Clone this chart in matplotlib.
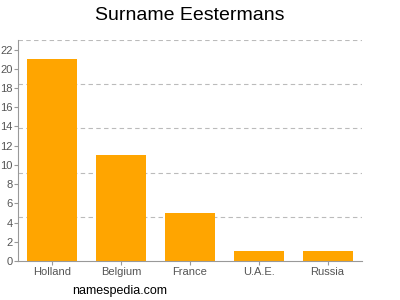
import matplotlib
matplotlib.use('Agg')
import matplotlib.pyplot as plt
from matplotlib.ticker import MultipleLocator

countries = ['Holland', 'Belgium', 'France', 'U.A.E.', 'Russia']
counts = [21, 11, 5, 1, 1]

plt.rcParams['font.family'] = ['Liberation Sans', 'DejaVu Sans']

fig = plt.figure(figsize=(4, 3), dpi=100)
ax = fig.add_axes([0.045, 0.13, 0.86, 0.7367])

# Столбцы
ax.bar(range(len(countries)), counts, width=0.725, color='#FFA500', zorder=2)

ax.set_xlim(-0.5, len(countries) - 0.5)
ax.set_ylim(0, 23)

# Метки по оси Y каждые 2, сетка через 4.6
ax.yaxis.set_major_locator(MultipleLocator(2))
ax.yaxis.set_minor_locator(MultipleLocator(4.6))
ax.grid(axis='y', which='minor', linestyle=(0, (4, 3)), color='#BBBBBB', linewidth=0.8)
ax.tick_params(axis='y', which='minor', length=0)

ax.set_xticks(range(len(countries)))
ax.set_xticklabels(countries)
ax.tick_params(axis='both', which='major', colors='#999999', labelcolor='#555555',
               labelsize=8, length=3, width=0.8, pad=1)

for side in ['top', 'right']:
    ax.spines[side].set_visible(False)
for side in ['left', 'bottom']:
    ax.spines[side].set_color('#999999')
    ax.spines[side].set_linewidth(0.8)

fig.text(0.475, 0.95, 'Surname Eestermans', ha='center', va='center', fontsize=14)
fig.text(0.3, 0.03, 'namespedia.com', ha='center', va='center', fontsize=9)

fig.savefig('out.png', dpi=100)
